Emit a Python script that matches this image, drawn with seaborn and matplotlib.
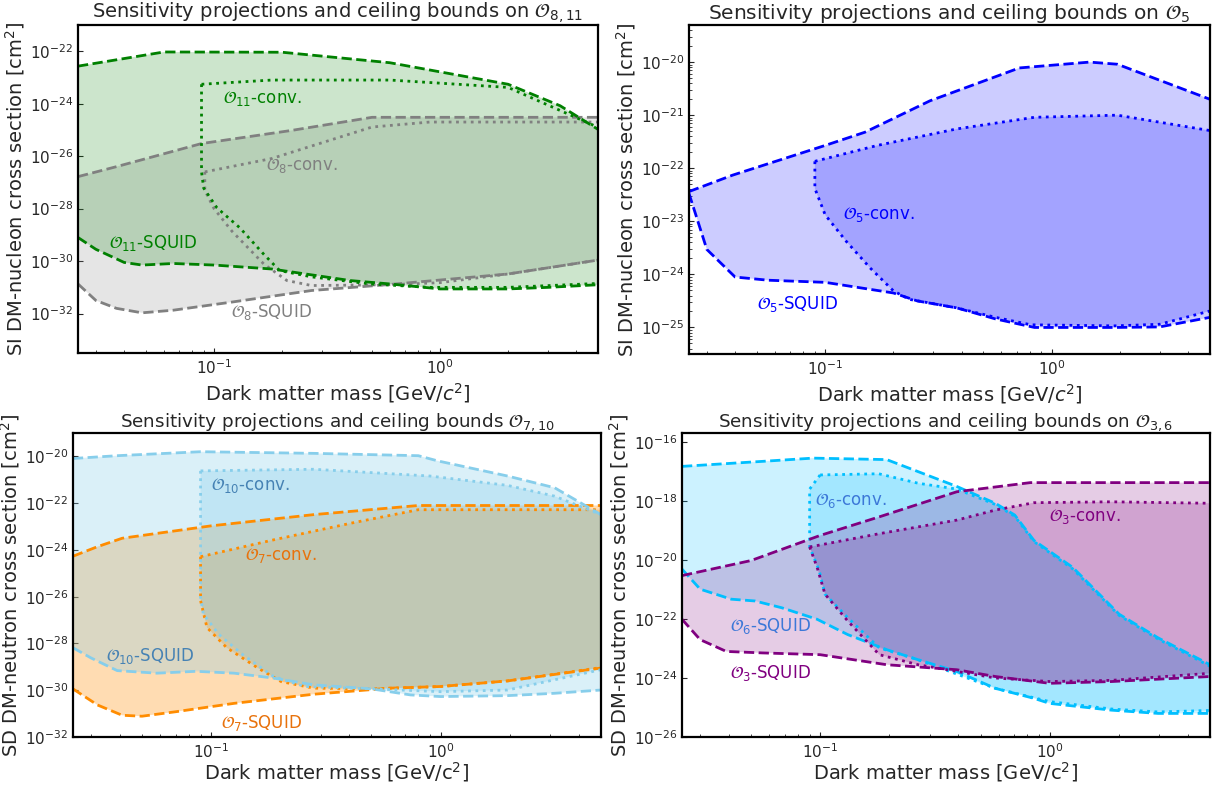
import matplotlib
matplotlib.use("Agg")
import matplotlib.pyplot as plt
import numpy as np
import seaborn as sns

# each boundary: (dark matter mass in GeV, log10 of cross section in cm^2)

# --- panel 1: O8 / O11 (SI) ---
o11_squid_hi = ([0.025, 0.06, 0.2, 0.6, 2.0, 3.4, 5.0],
                [-22.57, -22.03, -22.04, -22.44, -23.26, -24.08, -24.98])
o11_squid_lo = ([0.025, 0.03, 0.04, 0.048, 0.066, 0.1, 0.18, 0.4, 0.6, 1.0, 2.0, 3.0, 5.0],
                [-29.1, -29.55, -30.05, -30.15, -30.09, -30.15, -30.3, -30.74, -30.87, -31.06, -31.06, -31.0, -30.9])
o11_conv_hi = ([0.088, 0.18, 0.6, 2.0, 5.0],
               [-23.26, -23.1, -23.1, -23.38, -24.9])
o11_conv_lo = ([0.088, 0.088, 0.09, 0.103, 0.13, 0.166, 0.195, 0.27, 0.49, 0.9, 2.0, 5.0],
               [-23.26, -26.6, -27.22, -27.97, -28.73, -29.74, -30.36, -30.6, -30.87, -31.0, -31.0, -30.85])
o8_squid_hi = ([0.025, 0.037, 0.088, 0.22, 0.5, 5.0],
               [-26.78, -26.4, -25.52, -25.02, -24.52, -24.52])
o8_squid_lo = ([0.025, 0.03, 0.037, 0.048, 0.066, 0.12, 0.27, 0.6, 2.0, 5.0],
               [-30.87, -31.5, -31.8, -31.97, -31.87, -31.56, -31.12, -30.89, -30.49, -29.96])
o8_conv_hi = ([0.091, 0.18, 0.5, 0.9, 5.0],
              [-26.6, -26.09, -24.89, -24.7, -24.7])
o8_conv_lo = ([0.091, 0.091, 0.1, 0.12, 0.166, 0.21, 0.27, 0.6, 1.0, 2.0, 5.0],
              [-26.6, -27.3, -28.0, -28.86, -30.11, -30.74, -30.93, -30.9, -30.82, -30.49, -29.96])

# --- panel 2: O5 (SI) ---
o5_squid_hi = ([0.025, 0.039, 0.1, 0.15, 0.29, 0.72, 1.47, 1.95, 5.0],
               [-22.44, -22.13, -21.57, -21.32, -20.73, -20.11, -20.0, -20.04, -20.7])
o5_squid_lo = ([0.025, 0.03, 0.04, 0.056, 0.1, 0.2, 0.255, 0.38, 0.566, 0.84, 1.9, 3.0, 5.0],
               [-22.47, -23.53, -24.05, -24.11, -24.15, -24.35, -24.5, -24.63, -24.84, -25.0, -25.0, -24.99, -24.81])
o5_conv_hi = ([0.09, 0.17, 0.38, 0.84, 1.95, 5.0],
              [-21.87, -21.57, -21.26, -21.04, -21.0, -21.29])
o5_conv_lo = ([0.09, 0.09, 0.1, 0.124, 0.158, 0.2, 0.235, 0.38, 0.566, 0.81, 1.9, 3.0, 5.0],
              [-21.87, -22.38, -22.88, -23.38, -23.88, -24.31, -24.47, -24.63, -24.81, -24.95, -24.97, -24.94, -24.69])

# --- panel 3: O7 / O10 (SD) ---
o10_squid_hi = ([0.025, 0.039, 0.09, 0.28, 0.8, 0.97, 1.96, 3.14, 5.0],
                [-20.09, -19.97, -19.8, -19.87, -19.97, -20.19, -20.84, -21.34, -22.49])
o10_squid_lo = ([0.025, 0.03, 0.039, 0.058, 0.086, 0.126, 0.187, 0.28, 0.5, 0.74, 1.0, 1.96, 3.14, 5.0],
                [-28.18, -28.62, -29.16, -29.27, -29.19, -29.27, -29.48, -29.77, -29.94, -30.2, -30.27, -30.23, -30.13, -29.99])
o10_conv_hi = ([0.09, 0.28, 0.9, 1.96, 3.14, 5.0],
               [-20.62, -20.55, -20.84, -21.24, -21.7, -22.49])
o10_conv_lo = ([0.09, 0.09, 0.0925, 0.108, 0.137, 0.187, 0.256, 0.5, 1.0, 1.96, 5.0],
               [-20.62, -26.02, -26.74, -27.61, -28.47, -29.41, -29.84, -29.94, -30.06, -29.99, -29.12])
o7_squid_hi = ([0.025, 0.032, 0.041, 0.1, 0.28, 0.8, 5.0],
               [-24.27, -23.86, -23.5, -22.97, -22.49, -22.1, -22.1])
o7_squid_lo = ([0.025, 0.032, 0.041, 0.05, 0.07, 0.126, 0.28, 0.6, 1.0, 1.96, 5.0],
               [-29.94, -30.63, -31.07, -31.11, -30.92, -30.56, -30.17, -29.91, -29.84, -29.6, -29.05])
o7_conv_hi = ([0.09, 0.187, 0.41, 0.8, 5.0],
              [-24.29, -23.57, -22.85, -22.28, -22.28])
o7_conv_lo = ([0.09, 0.09, 0.096, 0.117, 0.16, 0.202, 0.28, 0.5, 1.0, 1.96, 5.0],
              [-24.29, -26.17, -27.32, -28.18, -29.05, -29.63, -29.91, -29.94, -29.84, -29.6, -29.03])

# --- panel 4: O3 / O6 (SD) ---
o6_squid_hi = ([0.025, 0.056, 0.093, 0.195, 0.394, 0.58, 0.705, 0.855, 1.26, 2.01, 2.97, 5.0],
               [-16.83, -16.66, -16.55, -16.6, -17.51, -18.08, -18.48, -19.34, -20.25, -21.84, -22.64, -23.55])
o6_squid_lo = ([0.025, 0.03, 0.041, 0.052, 0.068, 0.097, 0.132, 0.195, 0.267, 0.394, 0.58, 0.855, 1.0, 1.86, 2.97, 5.0],
               [-20.31, -20.99, -21.33, -21.39, -21.62, -22.01, -22.53, -23.04, -23.38, -23.78, -24.35, -24.69, -24.86, -25.09, -25.2, -25.2])
o6_conv_hi = ([0.1, 0.18, 0.267, 0.394, 0.58, 0.705, 0.855, 1.26, 2.01, 2.97, 5.0],
              [-17.12, -17.08, -17.4, -17.6, -18.12, -18.52, -19.38, -20.3, -21.88, -22.68, -23.6])
o6_conv_lo = ([0.1, 0.09, 0.09, 0.099, 0.105, 0.132, 0.181, 0.267, 0.58, 1.0, 1.86, 2.97, 5.0],
              [-17.12, -17.6, -19.56, -20.36, -21.16, -21.96, -22.98, -23.38, -24.35, -24.8, -25.05, -25.15, -25.1])
o3_squid_hi = ([0.025, 0.05, 0.1, 0.181, 0.394, 0.824, 5.0],
               [-20.53, -20.02, -19.17, -18.54, -17.69, -17.38, -17.38])
o3_squid_lo = ([0.025, 0.03, 0.039, 0.056, 0.1, 0.195, 0.394, 0.58, 1.0, 1.86, 5.0],
               [-22.01, -22.7, -23.1, -23.15, -23.21, -23.55, -23.72, -23.95, -24.18, -24.12, -23.95])
o3_conv_hi = ([0.09, 0.181, 0.394, 0.58, 0.855, 1.86, 5.0],
              [-19.56, -19.11, -18.65, -18.31, -18.06, -18.03, -18.08])
o3_conv_lo = ([0.09, 0.097, 0.105, 0.132, 0.181, 0.267, 0.58, 1.0, 1.86, 5.0],
              [-19.56, -20.25, -21.16, -22.07, -23.21, -23.55, -24.0, -24.12, -24.08, -23.84])

sns.set_style("ticks", {"xtick.direction": "in", "ytick.direction": "in",
                        "axes.edgecolor": "black"})
plt.rcParams["mathtext.fontset"] = "dejavusans"


def region(ax, hi, lo, color, alpha, ls, fill=True):
    """Fill between an upper and lower boundary and draw both edges."""
    if fill:
        xs = np.concatenate([hi[0], lo[0][::-1]])
        ys = 10.0 ** np.concatenate([hi[1], lo[1][::-1]])
        ax.fill(xs, ys, color=color, alpha=alpha, lw=0)
    for m, s in (hi, lo):
        sns.lineplot(x=m, y=10.0 ** np.array(s), ax=ax, color=color, linestyle=ls,
                     linewidth=2, sort=False, estimator=None)


def style(ax, title, ylabel, xlabel, ylim, yticks, tsize, xpad):
    ax.set_xscale("log")
    ax.set_yscale("log")
    ax.set_xlim(0.025, 5)
    ax.set_ylim(*ylim)
    ax.set_yticks(yticks)
    ax.set_title(title, fontsize=tsize, pad=1)
    ax.set_ylabel(ylabel, fontsize=14, labelpad=2)
    ax.set_xlabel(xlabel, fontsize=14, labelpad=xpad)
    ax.tick_params(labelsize=11)
    for sp in ax.spines.values():
        sp.set_linewidth(1.6)


fig = plt.figure(figsize=(12.15, 7.87), dpi=100)
ax1 = fig.add_axes([0.0642, 0.5515, 0.428, 0.4168])
ax2 = fig.add_axes([0.567, 0.5502, 0.4288, 0.4181])
ax3 = fig.add_axes([0.060, 0.0635, 0.4346, 0.3863])
ax4 = fig.add_axes([0.5613, 0.0635, 0.4346, 0.3863])

# panel 1
region(ax1, o8_squid_hi, o8_squid_lo, "grey", 0.2, "--")
region(ax1, o8_conv_hi, o8_conv_lo, "grey", 0.2, ":", fill=False)
region(ax1, o11_squid_hi, o11_squid_lo, "green", 0.2, "--")
region(ax1, o11_conv_hi, o11_conv_lo, "green", 0.2, ":", fill=False)
ax1.text(0.109, 10 ** -23.82, r"$\mathcal{O}_{11}$-conv.", color="green", fontsize=12, va="center")
ax1.text(0.17, 10 ** -26.34, r"$\mathcal{O}_{8}$-conv.", color="grey", fontsize=12, va="center")
ax1.text(0.0344, 10 ** -29.3, r"$\mathcal{O}_{11}$-SQUID", color="green", fontsize=12, va="center")
ax1.text(0.119, 10 ** -31.94, r"$\mathcal{O}_{8}$-SQUID", color="grey", fontsize=12, va="center")
style(ax1, r"Sensitivity projections and ceiling bounds on $\mathcal{O}_{8,11}$",
      "SI DM-nucleon cross section [cm$^2$]", "Dark matter mass [GeV/$c^2$]",
      (10 ** -33.5, 1e-21), [1e-32, 1e-30, 1e-28, 1e-26, 1e-24, 1e-22], 14, 3)

# panel 2
region(ax2, o5_squid_hi, o5_squid_lo, "blue", 0.2, "--")
region(ax2, o5_conv_hi, o5_conv_lo, "blue", 0.2, ":")
ax2.text(0.12, 10 ** -22.88, r"$\mathcal{O}_{5}$-conv.", color="blue", fontsize=12, va="center")
ax2.text(0.0498, 10 ** -24.56, r"$\mathcal{O}_{5}$-SQUID", color="blue", fontsize=12, va="center")
style(ax2, r"Sensitivity projections and ceiling bounds on $\mathcal{O}_{5}$",
      "SI DM-nucleon cross section [cm$^2$]", "Dark matter mass [GeV/$c^2$]",
      (10 ** -25.5, 10 ** -19.3), [1e-25, 1e-24, 1e-23, 1e-22, 1e-21, 1e-20], 14.5, 3)

# panel 3
region(ax3, o7_squid_hi, o7_squid_lo, "darkorange", 0.3, "--")
region(ax3, o7_conv_hi, o7_conv_lo, "darkorange", 0.3, ":")
region(ax3, o10_squid_hi, o10_squid_lo, "skyblue", 0.3, "--")
region(ax3, o10_conv_hi, o10_conv_lo, "skyblue", 0.3, ":")
ax3.text(0.1, 10 ** -21.24, r"$\mathcal{O}_{10}$-conv.", color="steelblue", fontsize=12, va="center")
ax3.text(0.14, 10 ** -24.22, r"$\mathcal{O}_{7}$-conv.", color="#e8720c", fontsize=12, va="center")
ax3.text(0.035, 10 ** -28.54, r"$\mathcal{O}_{10}$-SQUID", color="steelblue", fontsize=12, va="center")
ax3.text(0.11, 10 ** -31.38, r"$\mathcal{O}_{7}$-SQUID", color="#e8720c", fontsize=12, va="center")
style(ax3, r"Sensitivity projections and ceiling bounds $\mathcal{O}_{7,10}$",
      "SD DM-neutron cross section [cm$^2$]", "Dark matter mass [GeV/c$^2$]",
      (1e-32, 1e-19), [1e-32, 1e-30, 1e-28, 1e-26, 1e-24, 1e-22, 1e-20], 13.2, 0)

# panel 4
region(ax4, o6_squid_hi, o6_squid_lo, "deepskyblue", 0.2, "--")
region(ax4, o6_conv_hi, o6_conv_lo, "deepskyblue", 0.2, ":")
region(ax4, o3_squid_hi, o3_squid_lo, "purple", 0.2, "--")
region(ax4, o3_conv_hi, o3_conv_lo, "purple", 0.2, ":")
ax4.text(0.095, 10 ** -17.97, r"$\mathcal{O}_{6}$-conv.", color="#3c78d8", fontsize=12, va="center")
ax4.text(0.99, 10 ** -18.54, r"$\mathcal{O}_{3}$-conv.", color="purple", fontsize=12, va="center")
ax4.text(0.0404, 10 ** -22.24, r"$\mathcal{O}_{6}$-SQUID", color="#3c78d8", fontsize=12, va="center")
ax4.text(0.0404, 10 ** -23.84, r"$\mathcal{O}_{3}$-SQUID", color="purple", fontsize=12, va="center")
style(ax4, r"Sensitivity projections and ceiling bounds on $\mathcal{O}_{3,6}$",
      "SD DM-neutron cross section [cm$^2$]", "Dark matter mass [GeV/c$^2$]",
      (1e-26, 2e-16), [1e-26, 1e-24, 1e-22, 1e-20, 1e-18, 1e-16], 13.2, 0)

fig.savefig("out.png", dpi=100)
